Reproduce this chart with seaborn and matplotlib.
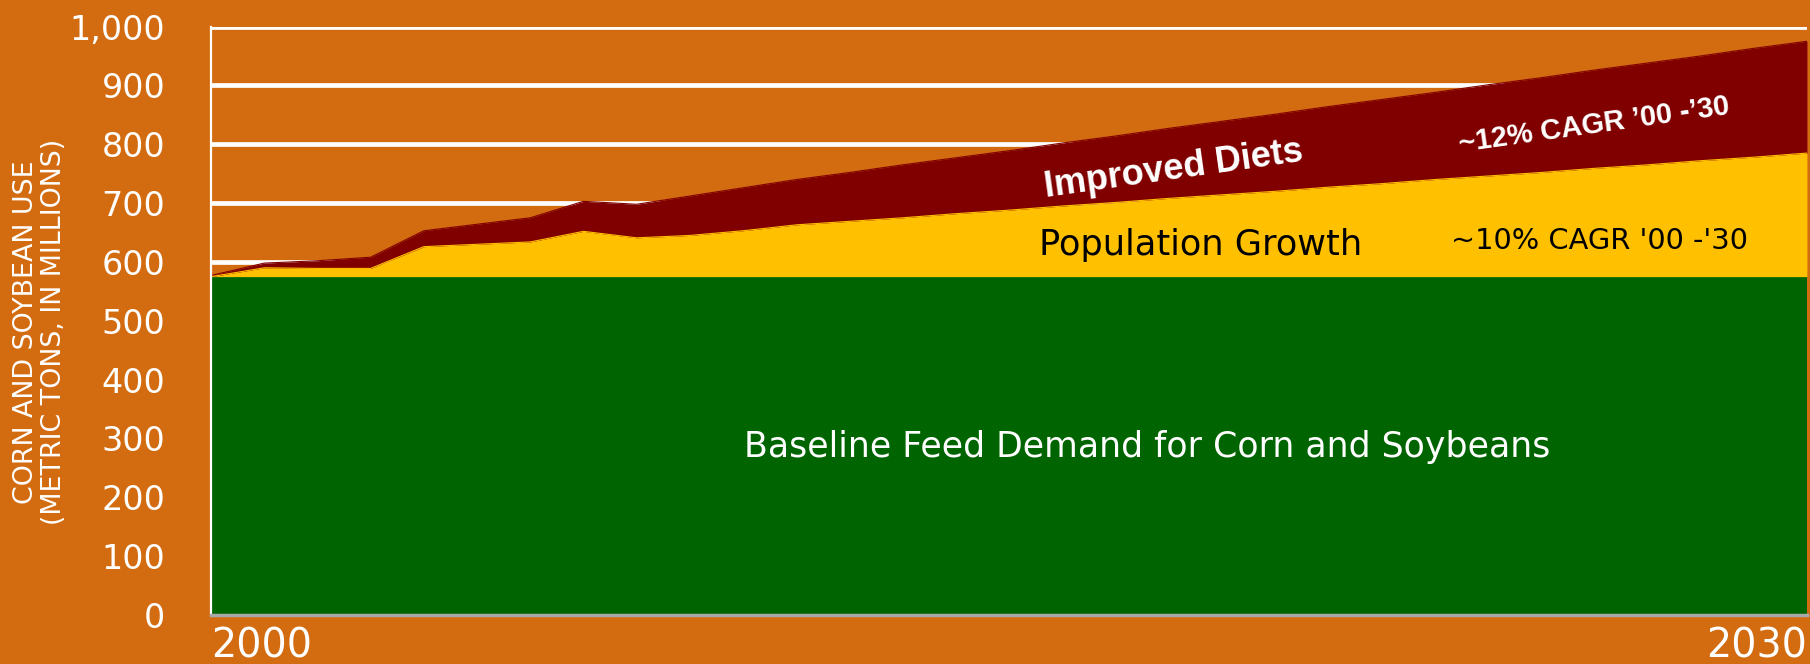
import matplotlib
matplotlib.use("Agg")
import matplotlib.pyplot as plt
from matplotlib.ticker import FuncFormatter
import seaborn as sns
import pandas as pd

# values (millions of metric tons)
years = list(range(2000, 2031))
baseline = [575] * 31
population_top = [575, 590, 589, 589, 626, 630, 634, 652, 641, 645, 653,
                  663, 669, 675, 682, 688, 695, 701, 708, 714, 720,
                  727, 733, 740, 746, 752, 759, 765, 772, 778, 785]
diets_top = [577, 598, 602, 608, 653, 664, 675, 703, 698, 712, 726,
             740, 752, 765, 777, 789, 802, 814, 827, 839, 851,
             864, 876, 888, 901, 913, 926, 938, 950, 963, 975]
y_ticks = list(range(0, 1001, 100))
x_ticks = [2000, 2030]

bg = "#D36B10"
green = "#006400"
yellow = "#FFC000"
maroon = "#800000"

df = pd.DataFrame({"year": years, "baseline": baseline,
                   "population": population_top, "diets": diets_top})

sns.set_theme(style="white")
plt.rcParams["font.family"] = ["DejaVu Sans"]
bold_font = ["Liberation Sans", "DejaVu Sans"]

fig = plt.figure(figsize=(18.1, 6.64), dpi=100, facecolor=bg)
ax = fig.add_axes([0.1166, 0.0738, 0.8817, 0.8862])
ax.set_facecolor(bg)

ax.fill_between(df["year"], 0, df["baseline"], color=green, lw=0, zorder=3)
ax.fill_between(df["year"], df["baseline"], df["population"], color=yellow, lw=0, zorder=3)
ax.fill_between(df["year"], df["population"], df["diets"], color=maroon, lw=0, zorder=3)
sns.lineplot(data=df, x="year", y="diets", color=maroon, lw=0.8, ax=ax, zorder=4)
sns.lineplot(data=df, x="year", y="population", color=yellow, lw=0.8, ax=ax, zorder=4)

ax.set_xlim(2000, 2030)
ax.set_ylim(0, 1000)
ax.set_yticks(y_ticks)
ax.yaxis.set_major_formatter(FuncFormatter(lambda v, p: f"{int(v):,}"))
ax.set_xticks(x_ticks)
ax.set_xticklabels([str(x) for x in x_ticks])
xl = ax.get_xticklabels()
xl[0].set_ha("left")
xl[-1].set_ha("right")
ax.tick_params(axis="y", length=0, pad=33, labelsize=24, labelcolor="white")
ax.tick_params(axis="x", length=0, pad=8, labelsize=28.5, labelcolor="white")
ax.set_xlabel("")
ax.set_ylabel("")

ax.grid(axis="y", color="white", lw=3.4, zorder=1)
ax.grid(axis="x", visible=False)
for s in ["top", "right"]:
    ax.spines[s].set_visible(False)
ax.spines["left"].set_color("white")
ax.spines["left"].set_linewidth(1.6)
ax.spines["left"].set_zorder(5)
ax.spines["bottom"].set_color("#A8A8A8")
ax.spines["bottom"].set_linewidth(2.5)
ax.spines["bottom"].set_zorder(5)

fig.text(0.022, 0.50, "CORN AND SOYBEAN USE\n(METRIC TONS, IN MILLIONS)",
         rotation=90, ha="center", va="center", multialignment="center",
         color="white", fontsize=19.4, linespacing=1.1)

ax.text(2017.6, 286, "Baseline Feed Demand for Corn and Soybeans",
        color="white", fontsize=25, ha="center", va="center", zorder=6)
ax.text(2018.6, 629, "Population Growth", color="black", fontsize=25.3,
        ha="center", va="center", zorder=6)
ax.text(2026.1, 635, "~10% CAGR '00 -'30", color="black", fontsize=20.8,
        ha="center", va="center", zorder=6)
ax.text(2018.1, 757, "Improved Diets", color="white", fontsize=26,
        fontweight="bold", family=bold_font, ha="center", va="center",
        rotation=8, rotation_mode="anchor", zorder=6)
ax.text(2026.0, 832, "~12% CAGR \u201900 -\u201930", color="white", fontsize=20.8,
        fontweight="bold", family=bold_font, ha="center", va="center",
        rotation=8, rotation_mode="anchor", zorder=6)

fig.savefig("out.png", dpi=100, facecolor=bg)
